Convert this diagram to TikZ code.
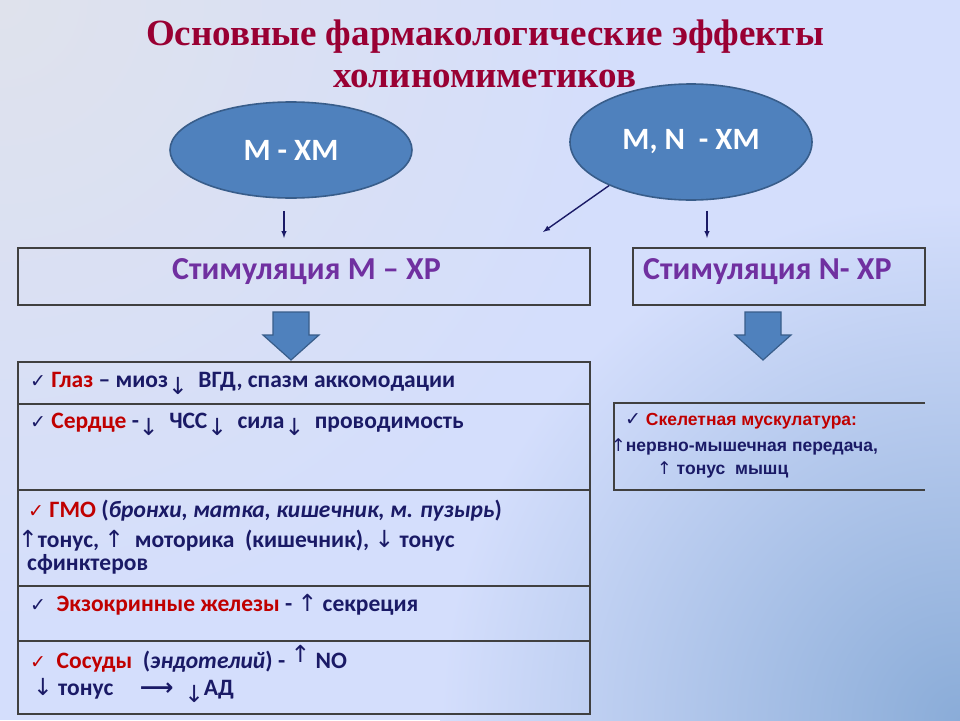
\documentclass[tikz,border=0pt]{standalone}
\usepackage{fontspec}
\setmainfont{Carlito}
\newfontfamily\titlefont{Liberation Serif}
\newfontfamily\arialfont{Liberation Sans}
\newfontfamily\symfont{DejaVu Sans}
\usetikzlibrary{arrows,positioning,shapes.geometric}

\definecolor{bgblue}{HTML}{D4DEFC}
\definecolor{bglight}{HTML}{DFE2EC}
\definecolor{bgdark}{HTML}{8AACD8}
\definecolor{titlered}{HTML}{990033}
\definecolor{headred}{HTML}{C00000}
\definecolor{navy}{HTML}{1A1A66}
\definecolor{violet}{HTML}{7030A0}
\definecolor{ellfill}{HTML}{4F81BD}
\definecolor{ellline}{HTML}{385D8A}
\definecolor{boxline}{HTML}{404040}

\newcommand{\chk}{{\symfont\fontsize{19}{19}\selectfont\mdseries ✓}}
\newcommand{\dn}{\raisebox{-7pt}{\symfont\mdseries ↓}}
\newcommand{\dnn}{{\symfont\mdseries ↓}}
\newcommand{\upa}{{\symfont\mdseries ↑}}
\newcommand{\upr}{\raisebox{6pt}{\symfont\mdseries ↑}}

\tikzset{
  ell/.style={ellipse, draw=ellline, line width=1.6, fill=ellfill, text=white,
    font=\fontsize{31}{33}\selectfont\bfseries, inner sep=0},
  stimbox/.style={draw=boxline, line width=1.3},
  stimtext/.style={anchor=base west, inner sep=0, text=violet, font=\fontsize{32}{36}\selectfont\bfseries},
  row/.style={anchor=base west, inner sep=0, text=navy, font=\fontsize{23.5}{27}\selectfont\bfseries},
  rrow/.style={anchor=base west, inner sep=0, text=navy, font=\arialfont\fontsize{17.5}{20}\selectfont\bfseries},
  thinarrow/.style={-latex, navy, line width=1.4},
  blockarrow/.style={draw=ellline, line width=1.2, fill=ellfill}
}

\begin{document}
\begin{tikzpicture}[x=1pt,y=-1pt]
% background
\fill[bgblue] (0,0) rectangle (960,720);
\begin{scope}
\clip (0,0) rectangle (960,720);
\shade[inner color=bglight, outer color=bgblue] (0,0) circle (640);
\shade[inner color=bgdark, outer color=bgblue] (960,720) circle (520);
\end{scope}
\useasboundingbox (0,0) rectangle (960,720);

% title
\node[font=\titlefont\fontsize{37}{42}\selectfont\bfseries, text=titlered, align=center] (title) at (485,54)
  {Основные фармакологические эффекты\\холиномиметиков};

% ellipses
\node[ell, minimum width=242, minimum height=96] (mx) at (291,150) {М - ХМ};
\node[ell, minimum width=242, minimum height=116] (mnx) at (691,142) {М, N\ \ - ХМ};

% stimulation boxes
\draw[stimbox] (18,248) rectangle (590,305);
\draw[stimbox] (633,248) rectangle (925,305);
\coordinate (stimM) at (304,248);
\coordinate (stimN) at (779,248);
\node[stimtext] (stimMtext) at (172,279) {Стимуляция М – ХР};
\node[stimtext] (stimNtext) at (643,279) {Стимуляция N- ХР};

% thin arrows
\draw[thinarrow] ([shift={(-7,12)}]mx.south) -- ([shift={(-20,-10)}]stimM);
\draw[thinarrow] (mnx.208) -- ([shift={(239,-16)}]stimM);
\draw[thinarrow] ([shift={(16,10)}]mnx.south) -- ([shift={(-72,-10)}]stimN);

% block arrows
\foreach \x in {291,763}
  \draw[blockarrow] (\x-18,312) -- (\x+18,312) -- (\x+18,335) -- (\x+28,335)
    -- (\x,360) -- (\x-28,335) -- (\x-18,335) -- cycle;

% left list
\foreach \a/\b in {362/404,404/490,490/586,586/641,641/714}
  \draw[stimbox] (18,\a) rectangle (590,\b);

\node[row] (eye) at (30,387) {\chk\ \textcolor{headred}{Глаз} – миоз\dn\ \ ВГД, спазм аккомодации};
\node[row] (heart) at (30,428) {\chk\ \textcolor{headred}{Сердце} -\dn\ \ ЧСС\dn\ \ сила\dn\ \ проводимость};
\node[row] (smooth1) at (28,517) {\textcolor{headred}{\chk\ ГМО} (\textit{бронхи, матка, кишечник, м. пузырь})};
\node[row] (smooth2) at (18,547) {\upa тонус, \upa\ \ моторика\ \ (кишечник), \dnn\ тонус};
\node[row] (smooth3) at (27,570) {сфинктеров};
\node[row] (gland) at (30,611) {\chk\ \ \textcolor{headred}{Экзокринные железы} - \upa\ секреция};
\node[row] (vessel1) at (30,668) {\textcolor{headred}{\chk\ \ Сосуды}\ \ (\textit{эндотелий}) - \upr\ NO};
\node[row] (vessel2) at (33,695) {\dnn\ тонус\ \ \ \ \ {\symfont ⟶}\ \ \dn АД};

% right list
\draw[stimbox] (925,403) -- (614,403) -- (614,490) -- (925,490);
\node[rrow] (skel1) at (625,425) {\chk\ \textcolor{headred}{Скелетная мускулатура:}};
\node[rrow] (skel2) at (611,451) {\upa нервно-мышечная передача,};
\node[rrow] (skel3) at (657,474) {\upa\ тонус\ \ мышц};
\end{tikzpicture}
\end{document}
